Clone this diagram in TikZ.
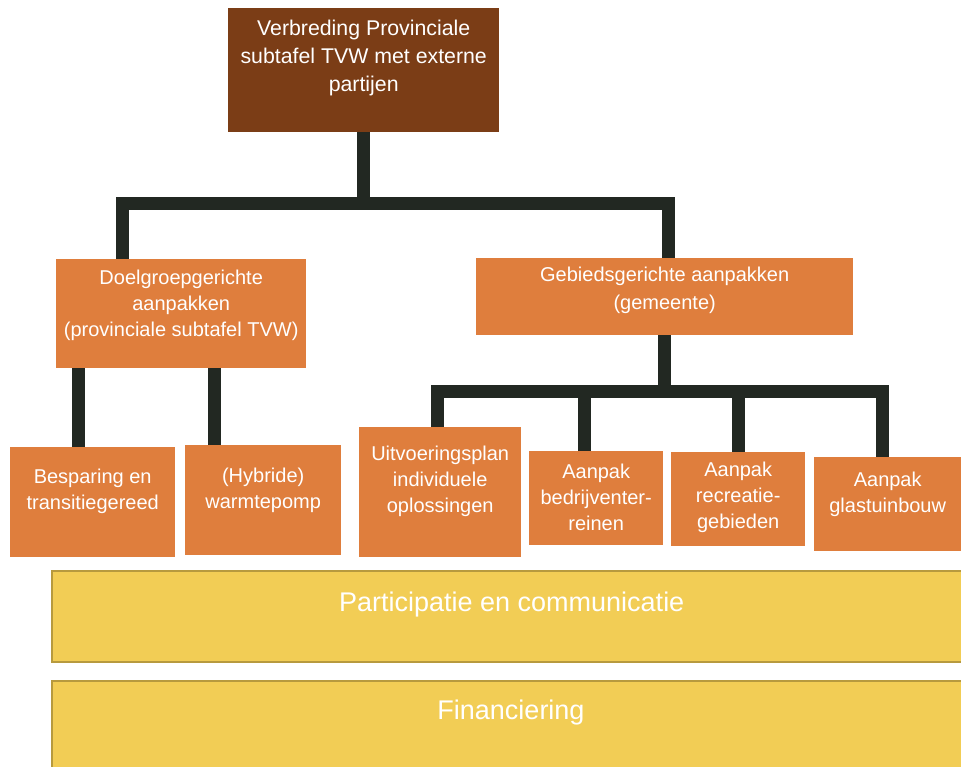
\documentclass[tikz,border=0pt]{standalone}
\usepackage{fontspec}
\setmainfont{Liberation Sans}
\usetikzlibrary{calc}

\definecolor{topbrown}{RGB}{123,61,22}
\definecolor{boxorange}{RGB}{223,126,61}
\definecolor{connclr}{RGB}{34,40,34}
\definecolor{bandyellow}{RGB}{242,205,85}
\definecolor{bandline}{RGB}{183,154,62}

\begin{document}
\begin{tikzpicture}[
    x=1pt, y=-1pt,
    box/.style 2 args={fill=boxorange, anchor=north west, inner sep=0pt,
        minimum width=#1, minimum height=#2},
    boxtext/.style={text=white, align=center, inner sep=0pt,
        font=\fontsize{20}{26}\selectfont},
    band/.style={fill=bandyellow, draw=bandline, line width=1.5pt,
        anchor=north west, inner sep=0pt, minimum width=920pt},
    bandtext/.style={text=white, inner sep=0pt, font=\fontsize{27}{32}\selectfont},
    conn/.style={draw=connclr, line width=13pt}
]
    \clip (0,0) rectangle (961,767);

    % Boxes
    \node[box={271pt}{124pt}, fill=topbrown] (top) at (228,8) {};
    \node[box={250pt}{109pt}] (doel) at (56,259) {};
    \node[box={377pt}{77pt}] (gebied) at (476,258) {};
    \node[box={165pt}{110pt}] (besp) at (10,447) {};
    \node[box={156pt}{110pt}] (hybr) at (185,445) {};
    \node[box={162pt}{130pt}] (uitv) at (359,427) {};
    \node[box={134pt}{94pt}] (bedr) at (529,451) {};
    \node[box={134pt}{94pt}] (recr) at (671,452) {};
    \node[box={147pt}{94pt}] (glas) at (814,457) {};

    % Texts
    \node[boxtext, font=\fontsize{21.3}{28}\selectfont] at ([yshift=12pt]top.center)
        {Verbreding Provinciale\\subtafel TVW met externe\\partijen};
    \node[boxtext] at ([yshift=8.5pt]doel.center)
        {Doelgroepgerichte\\aanpakken\\(provinciale subtafel TVW)};
    \node[boxtext, font=\fontsize{20}{28}\selectfont] at ([yshift=6.5pt]gebied.center)
        {Gebiedsgerichte aanpakken\\(gemeente)};
    \node[boxtext] at ([yshift=10.5pt]besp.center) {Besparing en\\transitiegereed};
    \node[boxtext] at ([yshift=10pt]hybr.center) {(Hybride)\\warmtepomp};
    \node[boxtext] at ([yshift=11pt]uitv.center) {Uitvoeringsplan\\individuele\\oplossingen};
    \node[boxtext] at ([yshift=1pt]bedr.center) {Aanpak\\bedrijventer-\\reinen};
    \node[boxtext] at ([yshift=1.5pt]recr.center) {Aanpak\\recreatie-\\gebieden};
    \node[boxtext] at ([yshift=10pt]glas.center) {Aanpak\\glastuinbouw};

    % Bands
    \node[band, minimum height=91pt] (part) at (51,570) {};
    \node[band, minimum height=100pt] (fin) at (51,680) {};
    \node[bandtext] at ([yshift=11.5pt]part.center) {Participatie en communicatie};
    \node[bandtext] at (511,713) {Financiering};

    % Connectors, upper tree
    \coordinate (bar1) at ($(top.south)+(0,71)$);
    \coordinate (d1) at ([xshift=-59pt]doel.north);
    \coordinate (d2) at ([xshift=4pt]gebied.north);
    \draw[conn] (top.south) -- (bar1);
    \draw[conn] (d1) |- (bar1) -| (d2);

    % Connectors, left branch
    \coordinate (d3) at ([xshift=-14pt]besp.north);
    \coordinate (d4) at ([xshift=-49pt]hybr.north);
    \draw[conn] (d3) -- (d3 |- doel.south);
    \draw[conn] (d4) -- (d4 |- doel.south);

    % Connectors, right branch
    \coordinate (bar2) at ($(gebied.south)+(1,56)$);
    \coordinate (d5) at ([xshift=-3pt]uitv.north);
    \coordinate (d6) at ([xshift=-11.5pt]bedr.north);
    \coordinate (d7) at (recr.north);
    \coordinate (d8) at ([xshift=-5.5pt]glas.north);
    \draw[conn] (gebied.south) -- (gebied.south |- bar2);
    \draw[conn] (d5) |- (bar2) -| (d8);
    \draw[conn] (d6) -- (d6 |- bar2);
    \draw[conn] (d7) -- (d7 |- bar2);

\end{tikzpicture}
\end{document}
